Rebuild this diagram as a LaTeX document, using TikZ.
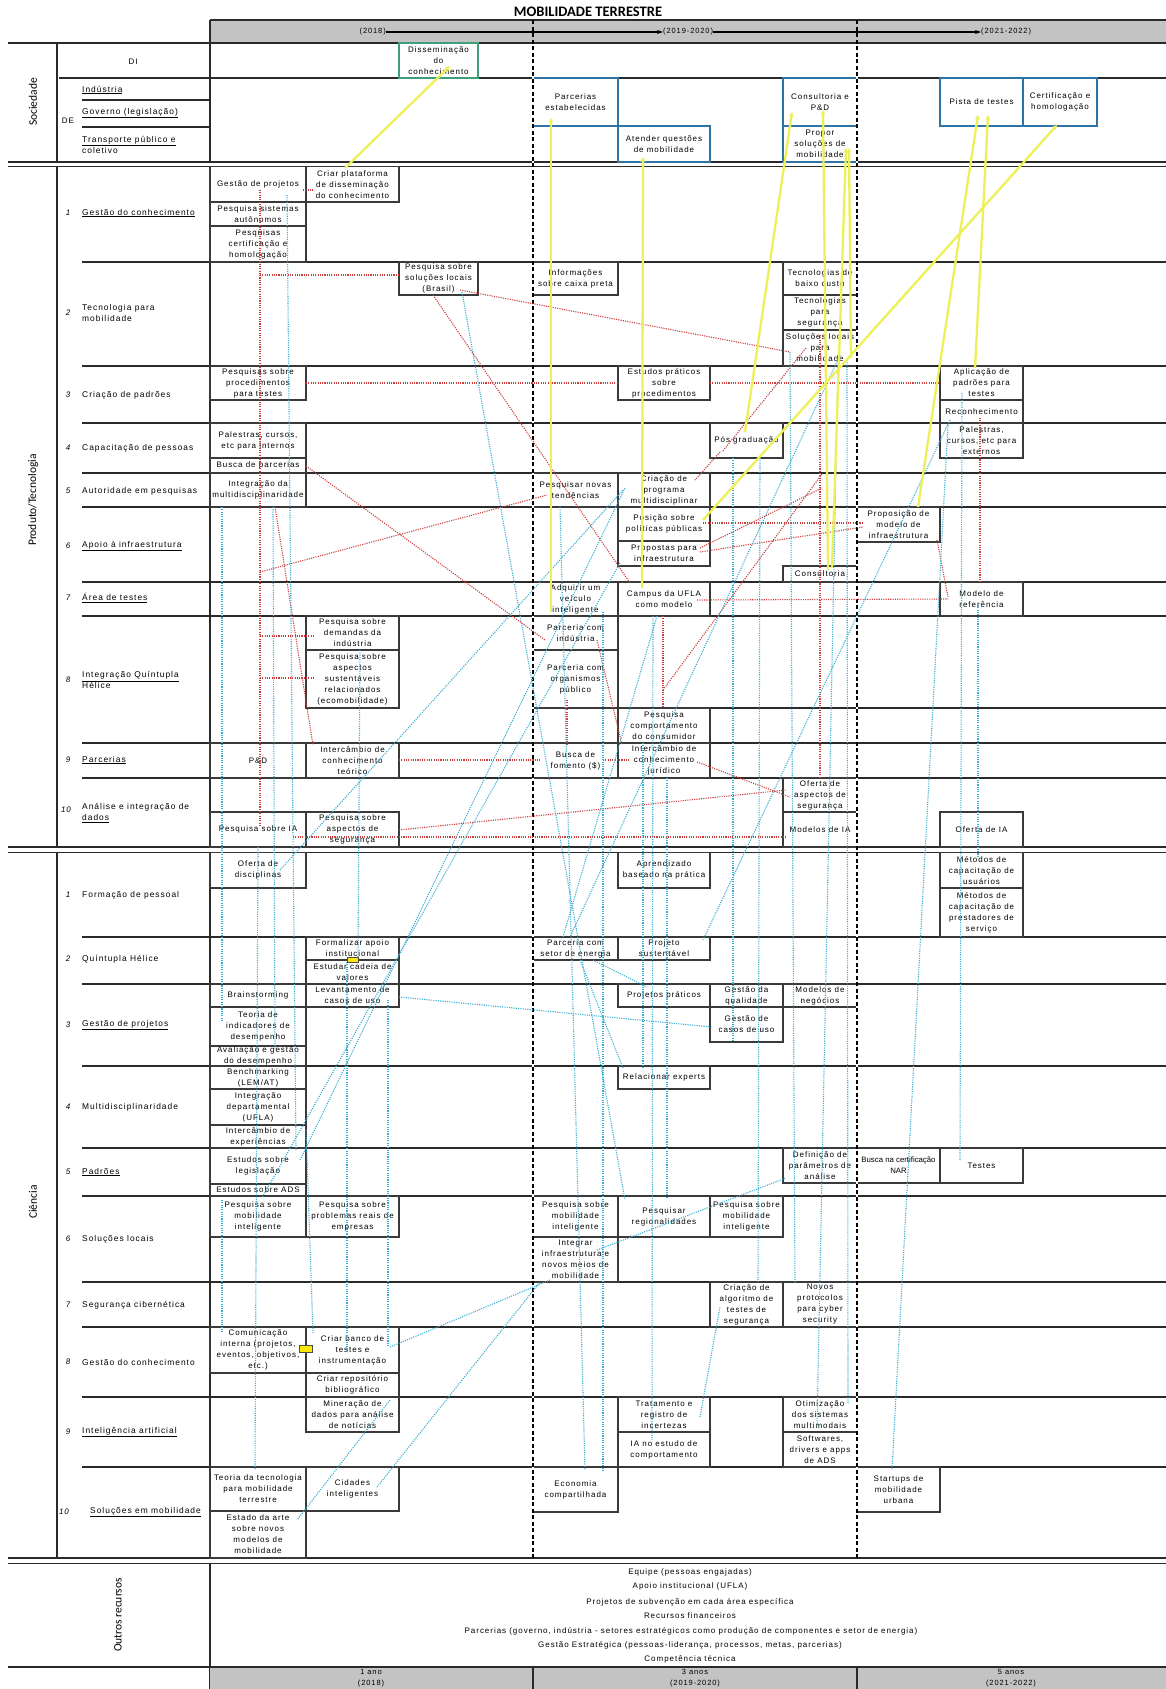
\documentclass[tikz,border=0pt]{standalone}
\usepackage{fontspec}
\setmainfont{Liberation Sans}[LetterSpace=12]
\newfontfamily\capfont{Carlito}
\newfontfamily\tightfont{Liberation Sans}
\usetikzlibrary{arrows.meta}
\definecolor{gridc}{HTML}{2a2a2a}
\definecolor{boxc}{HTML}{3a3a3a}
\definecolor{socc}{HTML}{2f74a8}
\definecolor{disc}{HTML}{3f9f78}
\definecolor{hdr}{HTML}{c3c3c3}
\definecolor{ylw}{HTML}{eef05a}
\definecolor{rdot}{HTML}{cf3c3c}
\definecolor{cdot}{HTML}{39aed3}

% box: [style]{name}{x1}{y1}{x2}{y2}{text}, pixel coordinates, y downwards
\newcommand\bx[7][bx]{%
  \pgfmathsetmacro\bxw{#5-#3}\pgfmathsetmacro\bxh{#6-#4}%
  \pgfmathsetmacro\bxcx{(#3+#5)/2}\pgfmathsetmacro\bxcy{(#4+#6)/2}%
  \expandafter\xdef\csname bxx-#2\endcsname{#3}%
  \expandafter\xdef\csname bxy-#2\endcsname{#4}%
  \node[#1,minimum width=\bxw pt,minimum height=\bxh pt] (#2) at (\bxcx,\bxcy) {};
  \node[txt] (#2-t) at (#2.center) {#7};}
% connector: {style}{from}{x}{y}{to}{x}{y}, points given inside/near the named boxes
\newcommand\cn[7]{%
  \pgfmathsetmacro\cax{#3-\csname bxx-#2\endcsname}%
  \pgfmathsetmacro\cay{#4-\csname bxy-#2\endcsname}%
  \pgfmathsetmacro\cbx{#6-\csname bxx-#5\endcsname}%
  \pgfmathsetmacro\cby{#7-\csname bxy-#5\endcsname}%
  \draw[#1] ([shift={(\cax,\cay)}]#2.north west) -- ([shift={(\cbx,\cby)}]#5.north west);}
\newcommand\sm{\fontsize{7.8}{11}\tightfont}

\begin{document}
\begin{tikzpicture}[x=1pt,y=-1pt,
  gl/.style={draw=gridc, line width=1.4pt},
  bx/.style={draw=boxc, line width=1.4pt, fill=white, inner sep=0pt, outer sep=0pt, rectangle},
  sb/.style={bx, draw=socc, line width=1.8pt},
  sg/.style={bx, draw=disc, line width=1.8pt},
  txt/.style={align=center, inner sep=0pt, font=\fontsize{8}{11}\selectfont},
  lbl/.style={inner sep=0pt, font=\fontsize{8}{11}\selectfont},
  rowlbl/.style={lbl, anchor=west, align=left, font=\fontsize{8.4}{11}\selectfont},
  num/.style={lbl, font=\fontsize{8}{11}\selectfont\itshape},
  sect/.style={inner sep=0pt, rotate=90, font=\fontsize{11.5}{13}\capfont},
  yl/.style={draw=ylw, line width=2.3pt, -{Stealth[length=5pt,width=5pt]}},
  rl/.style={draw=rdot, line width=1.1pt, dash pattern=on 1.1pt off 1.2pt},
  cl/.style={draw=cdot, line width=1.1pt, dash pattern=on 1.1pt off 1.2pt},
  dl/.style={draw=black, line width=1.2pt, dash pattern=on 4pt off 2.5pt},
  ym/.style={draw=black!70, fill=yellow!90!orange, line width=0.6pt, inner sep=0pt},
  tl/.style={draw=black, line width=1.2pt, -{Stealth[length=6pt,width=4pt]}}]

\useasboundingbox (0,0) rectangle (1166,1689);
\fill[white] (0,0) rectangle (1166,1689);

% ---------- title and time header ----------
\node[font=\fontsize{14.5}{16}\capfont\bfseries] (ttl) at (588,12) {MOBILIDADE TERRESTRE};
\fill[hdr] (210,20) rectangle (1166,43);
\draw[gl] (210,20) -- (1166,20);
\node[lbl, anchor=east, font=\fontsize{7.5}{9}\selectfont] (t1) at (386,32) {(2018)};
\node[lbl, anchor=west, font=\fontsize{7.5}{9}\selectfont] (t2) at (663,32) {(2019-2020)};
\node[lbl, anchor=west, font=\fontsize{7.5}{9}\selectfont] (t3) at (981,32) {(2021-2022)};
\draw[tl] (t1.east) -- (t2.west);
\draw[tl] (t2.east) -- (t3.west);

% ---------- table frame ----------
\draw[gl] (8,43) -- (1166,43);
% Sociedade
\draw[gl] (57,43) -- (57,162);
\draw[gl] (210,20) -- (210,162);
\draw[gl] (59,78) -- (1166,78);
\draw[gl] (82,100) -- (210,100);
\draw[gl] (82,127) -- (210,127);
\draw[gl] (618,78) -- (618,162);
\draw[gl] (783,78) -- (783,162);
\draw[gl] (8,162) -- (1166,162);
\draw[gl] (8,166.5) -- (1166,166.5);
% Produto/Tecnologia
\draw[gl] (57,166.5) -- (57,847);
\draw[gl] (210,166.5) -- (210,847);
\foreach \yy in {262,366,423,473,507,582,616,743,778}
  \draw[gl] (82,\yy) -- (1166,\yy);
\draw[gl] (533,708) -- (1166,708);
\draw[gl] (8,847) -- (1166,847);
\draw[gl] (8,852.5) -- (1166,852.5);
% Ciencia
\draw[gl] (57,852.5) -- (57,1558);
\draw[gl] (210,852.5) -- (210,1558);
\foreach \yy in {937,984,1066,1148,1196,1282,1327,1397,1467}
  \draw[gl] (82,\yy) -- (1166,\yy);
\draw[gl] (8,1558) -- (1166,1558);
\draw[gl] (8,1563.5) -- (1166,1563.5);
% Outros recursos and bottom band
\draw[gl] (210,1563.5) -- (210,1689);
\fill[hdr] (210,1667) rectangle (1166,1689);
\draw[gl] (8,1667) -- (1166,1667);
\draw[gl] (533,1667) -- (533,1689);
\draw[gl] (857,1667) -- (857,1689);

% ---------- left labels ----------
\node[sect] (ssoc) at (33,102) {Sociedade};
\node[sect] (sprod) at (33,500) {Produto/Tecnologia};
\node[sect] (scien) at (33,1202) {Ciência};
\node[sect] (soutr) at (118,1615) {Outros recursos};

\node[lbl] (sdi) at (133,62) {DI};
\node[lbl] (sde) at (68,121) {DE};
\node[rowlbl] (sind) at (82,90) {\underline{Indústria}};
\node[rowlbl] (sgov) at (82,113) {\underline{Governo (legislação)}};
\node[rowlbl] (stra) at (82,144.5) {\underline{Transporte público e}\\coletivo};

\node[num] (pn1) at (68,213) {1};
\node[rowlbl] (pl1) at (82,213) {\underline{Gestão do conhecimento}};
\node[num] (pn2) at (68,313) {2};
\node[rowlbl] (pl2) at (82,313) {Tecnologia para\\mobilidade};
\node[num] (pn3) at (68,395) {3};
\node[rowlbl] (pl3) at (82,395) {Criação de padrões};
\node[num] (pn4) at (68,448) {4};
\node[rowlbl] (pl4) at (82,448) {Capacitação de pessoas};
\node[num] (pn5) at (68,491) {5};
\node[rowlbl] (pl5) at (82,491) {Autoridade em pesquisas};
\node[num] (pn6) at (68,546) {6};
\node[rowlbl] (pl6) at (82,546) {\underline{Apoio à infraestrutura}};
\node[num] (pn7) at (68,598) {7};
\node[rowlbl] (pl7) at (82,598) {\underline{Área de testes}};
\node[num] (pn8) at (68,680) {8};
\node[rowlbl] (pl8) at (82,680) {\underline{Integração Quíntupla}\\Hélice};
\node[num] (pn9) at (68,760) {9};
\node[rowlbl] (pl9) at (82,760) {\underline{Parcerias}};
\node[num] (pn10) at (66,810) {10};
\node[rowlbl] (pl10) at (82,813) {Análise e integração de\\\underline{dados}};

\node[num] (cn1) at (68,895) {1};
\node[rowlbl] (cl1) at (82,895) {Formação de pessoal};
\node[num] (cn2) at (68,959) {2};
\node[rowlbl] (cl2) at (82,959) {Quíntupla Hélice};
\node[num] (cn3) at (68,1025) {3};
\node[rowlbl] (cl3) at (82,1025) {\underline{Gestão de projetos}};
\node[num] (cn4) at (68,1107) {4};
\node[rowlbl] (cl4) at (82,1107) {Multidisciplinaridade};
\node[num] (cn5) at (68,1172) {5};
\node[rowlbl] (cl5) at (82,1172) {\underline{Padrões}};
\node[num] (cn6) at (68,1239) {6};
\node[rowlbl] (cl6) at (82,1239) {Soluções locais};
\node[num] (cn7) at (68,1305) {7};
\node[rowlbl] (cl7) at (82,1305) {Segurança cibernética};
\node[num] (cn8) at (68,1362) {8};
\node[rowlbl] (cl8) at (82,1362) {Gestão do conhecimento};
\node[num] (cn9) at (68,1432) {9};
\node[rowlbl] (cl9) at (82,1432) {\underline{Inteligência artificial}};
\node[num] (cn10) at (64,1512) {10};
\node[rowlbl] (cl10) at (90,1512) {\underline{Soluções em mobilidade}};

% ---------- Sociedade boxes ----------
\bx[sg]{dis}{399}{43}{478}{78}{Disseminação\\do\\conhecimento}
\bx[sb]{parc}{533}{78}{618}{126}{Parcerias\\estabelecidas}
\bx[sb]{aten}{618}{126}{710}{162}{Atender questões\\de mobilidade}
\bx[sb]{cons}{783}{78}{857}{126}{Consultoria e\\P\&D}
\bx[sb]{prop}{783}{126}{857}{162}{Propor\\soluções de\\mobilidade}
\bx[sb]{pist}{940}{78}{1023}{126}{Pista de testes}
\bx[sb]{cert}{1023}{78}{1097}{126}{Certificação e\\homologação}

% ---------- Produto/Tecnologia boxes ----------
\bx{gpj}{210}{166.5}{306}{202}{Gestão de projetos}
\bx{crp}{306}{166.5}{399}{202}{Criar plataforma\\de disseminação\\do conhecimento}
\bx{psa}{210}{202}{306}{226}{Pesquisa sistemas\\autônomos}
\bx{pch}{210}{226}{306}{262}{Pesquisas\\certificação e\\homologação}
\bx{psl}{399}{262}{478}{295}{Pesquisa sobre\\soluções locais\\(Brasil)}
\bx{icp}{533}{262}{618}{295}{Informações\\sobre caixa preta}
\bx{tbc}{783}{262}{857}{295}{Tecnologias de\\baixo custo}
\bx{tps}{783}{295}{857}{330}{Tecnologias\\para\\segurança}
\bx{slm}{783}{330}{857}{366}{Soluções locais\\para\\mobilidade}
\bx{ppt}{210}{366}{306}{400}{Pesquisas sobre\\procedimentos\\para testes}
\bx{epp}{618}{366}{710}{400}{Estudos práticos\\sobre\\procedimentos}
\bx{apt}{940}{366}{1023}{400}{Aplicação de\\padrões para\\testes}
\bx{rec}{940}{400}{1023}{423}{Reconhecimento}
\bx{pci}{210}{423}{306}{458}{Palestras, cursos,\\etc para internos}
\bx{bpa}{210}{458}{306}{473}{Busca de parcerias}
\bx{pgr}{710}{423}{783}{458}{Pós graduação}
\bx{pce}{940}{423}{1023}{458}{Palestras,\\cursos, etc para\\externos}
\bx{imd}{210}{473}{306}{507}{Integração da\\multidisciplinaridade}
\bx{pnt}{533}{473}{618}{507}{Pesquisar novas\\tendências}
\bx{cpm}{618}{473}{710}{507}{Criação de\\programa\\multidisciplinar}
\bx{ppp}{618}{507}{710}{541}{Posição sobre\\políticas públicas}
\bx{pin}{618}{541}{710}{566}{Propostas para\\infraestrutura}
\bx{pmi}{857}{507}{940}{542}{Proposição de\\modelo de\\infraestrutura}
\bx{cst}{783}{566}{857}{582}{Consultoria}
\bx{avi}{533}{582}{618}{616}{Adquirir um\\veículo\\inteligente}
\bx{cuf}{618}{582}{710}{616}{Campus da UFLA\\como modelo}
\bx{mrf}{940}{582}{1023}{616}{Modelo de\\referência}
\bx{pdi}{306}{616}{399}{650}{Pesquisa sobre\\demandas da\\indústria}
\bx{pas}{306}{650}{399}{708}{Pesquisa sobre\\aspectos\\sustentáveis\\relacionados\\(ecomobilidade)}
\bx{pcind}{533}{616}{618}{650}{Parceria com\\indústria}
\bx{pco}{533}{650}{618}{708}{Parceria com\\organismos\\público}
\bx{pcc}{618}{708}{710}{743}{Pesquisa\\comportamento\\do consumidor}
\bx{pd}{210}{743}{306}{778}{P\&D}
\bx{ict}{306}{743}{399}{778}{Intercâmbio de\\conhecimento\\teórico}
\bx{bfo}{533}{743}{618}{778}{Busca de\\fomento (\$)}
\bx{icj}{618}{743}{710}{778}{Intercâmbio de\\conhecimento\\jurídico}
\bx{psi}{210}{812}{306}{847}{Pesquisa sobre IA}
\bx{pss}{306}{812}{399}{847}{Pesquisa sobre\\aspectos de\\segurança}
\bx{oas}{783}{778}{857}{812}{Oferta de\\aspectos de\\segurança}
\bx{mia}{783}{812}{857}{847}{Modelos de IA}
\bx{oia}{940}{812}{1023}{847}{Oferta de IA}

% ---------- Ciencia boxes ----------
\bx{odi}{210}{852.5}{306}{888}{Oferta de\\disciplinas}
\bx{abp}{618}{852.5}{710}{888}{Aprendizado\\baseado na prática}
\bx{mcu}{940}{852.5}{1023}{888}{Métodos de\\capacitação de\\usuários}
\bx{mcp}{940}{888}{1023}{937}{Métodos de\\capacitação de\\prestadores de\\serviço}
\bx{fai}{306}{937}{399}{960}{Formalizar apoio\\institucional}
\bx{ecv}{306}{960}{399}{984}{Estudar cadeia de\\valores}
\bx{pse}{533}{937}{618}{960}{Parceria com\\setor de energia}
\bx{psu}{618}{937}{710}{960}{Projeto\\sustentável}
\bx{brs}{210}{984}{306}{1007}{Brainstorming}
\bx{lcu}{306}{984}{399}{1007}{Levantamento de\\casos de uso}
\bx{tid}{210}{1007}{306}{1046}{Teoria de\\indicadores de\\desempenho}
\bx{agd}{210}{1046}{306}{1066}{Avaliação e gestão\\do desempenho}
\bx{prp}{618}{984}{710}{1007}{Projetos práticos}
\bx{gqu}{710}{984}{783}{1007}{Gestão da\\qualidade}
\bx{gcu}{710}{1007}{783}{1042}{Gestão de\\casos de uso}
\bx{mne}{783}{984}{857}{1007}{Modelos de\\negócios}
\bx{bmk}{210}{1066}{306}{1089}{Benchmarking\\(LEM/AT)}
\bx{idp}{210}{1089}{306}{1125}{Integração\\departamental\\(UFLA)}
\bx{iex}{210}{1125}{306}{1148}{Intercâmbio de\\experiências}
\bx{rex}{618}{1066}{710}{1089}{Relacionar experts}
\bx{esl}{210}{1148}{306}{1184}{Estudos sobre\\legislação}
\bx{ead}{210}{1184}{306}{1196}{Estudos sobre ADS}
\bx{dpa}{783}{1148}{857}{1183}{Definição de\\parâmetros de\\análise}
\bx{bcn}{857}{1148}{940}{1183}{\sm Busca na certificação\\\sm NAR}
\bx{tst}{940}{1148}{1023}{1183}{Testes}
\bx{pmia}{210}{1196}{306}{1237}{Pesquisa sobre\\mobilidade\\inteligente}
\bx{ppr}{306}{1196}{399}{1237}{Pesquisa sobre\\problemas reais de\\empresas}
\bx{pmib}{533}{1196}{618}{1237}{Pesquisa sobre\\mobilidade\\inteligente}
\bx{prg}{618}{1196}{710}{1237}{Pesquisar\\regionalidades}
\bx{pmic}{710}{1196}{783}{1237}{Pesquisa sobre\\mobilidade\\inteligente}
\bx{iin}{533}{1237}{618}{1282}{Integrar\\infraestrutura e\\novos meios de\\mobilidade}
\bx{cat}{710}{1282}{783}{1327}{Criação de\\algoritmo de\\testes de\\segurança}
\bx{npc}{783}{1282}{857}{1327}{Novos\\protocolos\\para cyber\\security}
\bx{cin}{210}{1327}{306}{1373}{Comunicação\\interna (projetos,\\eventos, objetivos,\\etc.)}
\bx{cbt}{306}{1327}{399}{1373}{Criar banco de\\testes e\\instrumentação}
\bx{crb}{306}{1373}{399}{1397}{Criar repositório\\bibliográfico}
\bx{mdn}{306}{1397}{399}{1432}{Mineração de\\dados para análise\\de notícias}
\bx{tri}{618}{1397}{710}{1432}{Tratamento e\\registro de\\incertezas}
\bx{iac}{618}{1432}{710}{1467}{IA no estudo de\\comportamento}
\bx{osm}{783}{1397}{857}{1432}{Otimização\\dos sistemas\\multimodais}
\bx{sda}{783}{1432}{857}{1467}{Softwares,\\drivers e apps\\de ADS}
\bx{ttm}{210}{1467}{306}{1511}{Teoria da tecnologia\\para mobilidade\\terrestre}
\bx{eam}{210}{1511}{306}{1558}{Estado da arte\\sobre novos\\modelos de\\mobilidade}
\bx{cid}{306}{1467}{399}{1511}{Cidades\\inteligentes}
\bx{eco}{533}{1467}{618}{1512}{Economia\\compartilhada}
\bx{smu}{857}{1467}{940}{1512}{Startups de\\mobilidade\\urbana}

% ---------- period separators ----------
\draw[white, line width=2.2pt] (533,43) -- (533,1558);
\draw[white, line width=2.2pt] (857,43) -- (857,1558);
\draw[dl] (533,20) -- (533,1558);
\draw[dl] (857,20) -- (857,1558);

% ---------- other resources and bottom band ----------
\node[lbl] (or1) at (690,1572) {Equipe (pessoas engajadas)};
\node[lbl] (or2) at (690,1586) {Apoio institucional (UFLA)};
\node[lbl] (or3) at (690,1602) {Projetos de subvenção em cada área específica};
\node[lbl] (or4) at (690,1616) {Recursos financeiros};
\node[lbl] (or5) at (691,1631) {Parcerias (governo, indústria - setores estratégicos como produção de componentes e setor de energia)};
\node[lbl] (or6) at (690,1645) {Gestão Estratégica (pessoas-liderança, processos, metas, parcerias)};
\node[lbl] (or7) at (690,1659) {Competência técnica};
\node[lbl, align=center, font=\fontsize{7.5}{11}\selectfont] (bt1) at (371,1678) {1 ano\\(2018)};
\node[lbl, align=center, font=\fontsize{7.5}{11}\selectfont] (bt2) at (695,1678) {3 anos\\(2019-2020)};
\node[lbl, align=center, font=\fontsize{7.5}{11}\selectfont] (bt3) at (1011,1678) {5 anos\\(2021-2022)};

% ---------- red links ----------
\cn{rl}{gpj}{260}{190}{psi}{260}{827}
\cn{rl}{pch}{260}{275}{psl}{399}{275}
\cn{rl}{gpj}{303}{190}{crp}{314}{190}
\cn{rl}{ppt}{306}{383}{epp}{618}{383}
\cn{rl}{epp}{710}{383}{apt}{940}{383}
\cn{rl}{psi}{260}{636}{pdi}{314}{636}
\cn{rl}{psi}{260}{678}{pas}{314}{678}
\cn{rl}{psl}{460}{290}{slm}{790}{352}
\cn{rl}{psl}{433}{295}{cuf}{630}{583}
\cn{rl}{bpa}{306}{466}{pcind}{545}{640}
\cn{rl}{psi}{260}{572}{pnt}{547}{495}
\cn{rl}{imd}{275}{507}{ict}{313}{745}
\cn{rl}{pcind}{597}{640}{icj}{622}{745}
\cn{rl}{pco}{567}{700}{bfo}{567}{745}
\cn{rl}{ict}{399}{760}{bfo}{540}{760}
\cn{rl}{bfo}{603}{760}{icj}{630}{760}
\cn{rl}{icj}{697}{762}{oas}{790}{797}
\cn{rl}{pss}{399}{830}{oas}{786}{790}
\cn{rl}{psi}{293}{837}{mia}{786}{837}
\cn{rl}{cuf}{663}{616}{pcc}{663}{708}
\cn{rl}{pcc}{663}{690}{tps}{822}{474}
\cn{rl}{cuf}{697}{600}{mrf}{948}{599}
\cn{rl}{pmi}{937}{540}{mrf}{948}{597}
\cn{rl}{ppp}{703}{523}{pmi}{863}{523}
\cn{rl}{pin}{700}{552}{pmi}{863}{527}
\cn{rl}{tps}{820}{335}{oas}{820}{778}
\cn{rl}{rec}{980}{418}{mrf}{980}{582}
\cn{rl}{slm}{806}{348}{pgr}{722}{452}
\cn{rl}{pgr}{720}{452}{cpm}{695}{480}
\cn{rl}{pin}{700}{548}{tps}{822}{488}

% ---------- blue links ----------
\cn{cl}{imd}{222}{507}{tid}{222}{1020}
\cn{cl}{pmia}{222}{1200}{cin}{222}{1333}
\cn{cl}{gpj}{287}{195}{esl}{296}{1150}
\cn{cl}{imd}{273}{507}{agd}{275}{1050}
\cn{cl}{psi}{258}{847}{ttm}{255}{1470}
\cn{cl}{pdi}{360}{650}{ecv}{358}{957}
\cn{cl}{ecv}{347}{962}{cbt}{347}{1350}
\cn{cl}{iex}{306}{1130}{cbt}{313}{1333}
\cn{cl}{lcu}{388}{1000}{cbt}{388}{1347}
\cn{cl}{lcu}{399}{997}{gcu}{712}{1027}
\cn{cl}{pse}{593}{960}{prp}{647}{987}
\cn{cl}{pse}{580}{960}{rex}{623}{1068}
\cn{cl}{esl}{300}{1160}{cpm}{625}{488}
\cn{cl}{cpm}{623}{490}{odi}{280}{870}
\cn{cl}{psl}{462}{292}{prg}{625}{1200}
\cn{cl}{pin}{620}{563}{pmia}{262}{1198}
\cn{cl}{cuf}{657}{616}{pse}{563}{937}
\cn{cl}{pcc}{643}{743}{rex}{643}{1068}
\cn{cl}{icj}{667}{778}{prg}{667}{1198}
\cn{cl}{apt}{962}{393}{tst}{960}{1160}
\cn{cl}{mrf}{978}{605}{mcu}{978}{858}
\cn{cl}{pce}{948}{425}{smu}{892}{1470}
\cn{cl}{rec}{950}{420}{psu}{703}{940}
\cn{cl}{slm}{790}{352}{npc}{795}{1283}
\cn{cl}{slm}{838}{360}{osm}{817}{1427}
\cn{cl}{slm}{847}{360}{osm}{848}{1403}
\cn{cl}{pgr}{733}{458}{gcu}{733}{1040}
\cn{cl}{cbt}{390}{1347}{iin}{550}{1280}
\cn{cl}{pnt}{560}{507}{eco}{585}{1470}
\cn{cl}{avi}{603}{612}{eco}{603}{1470}
\cn{cl}{cuf}{653}{616}{iac}{652}{1440}
\cn{cl}{tri}{700}{1417}{cat}{720}{1307}
\cn{cl}{pgr}{760}{458}{cat}{758}{1282}
\cn{cl}{mdn}{390}{1400}{eam}{297}{1520}
\cn{cl}{cid}{377}{1487}{iin}{540}{1282}
\cn{cl}{slm}{840}{355}{pse}{570}{937}
\cn{cl}{iin}{597}{1250}{dpa}{786}{1178}

% ---------- yellow links ----------
\cn{yl}{crp}{345}{168}{dis}{450}{66}
\cn{yl}{avi}{551}{612}{parc}{551}{118}
\cn{yl}{cuf}{642}{588}{aten}{643}{157}
\cn{yl}{pgr}{745}{432}{cons}{792}{112}
\cn{yl}{cst}{828}{570}{cons}{823}{110}
\cn{yl}{cst}{832}{568}{prop}{846}{148}
\cn{yl}{slm}{851}{358}{prop}{849}{148}
\cn{yl}{pmi}{918}{507}{pist}{978}{115}
\cn{yl}{apt}{975}{368}{pist}{988}{115}
\cn{yl}{ppp}{703}{520}{cert}{1057}{125}

% small markers
\node[ym, minimum width=11pt, minimum height=5pt] (ym1) at (353,959.5) {};
\node[ym, minimum width=13pt, minimum height=7pt] (ym2) at (306,1348.5) {};

\end{tikzpicture}
\end{document}
